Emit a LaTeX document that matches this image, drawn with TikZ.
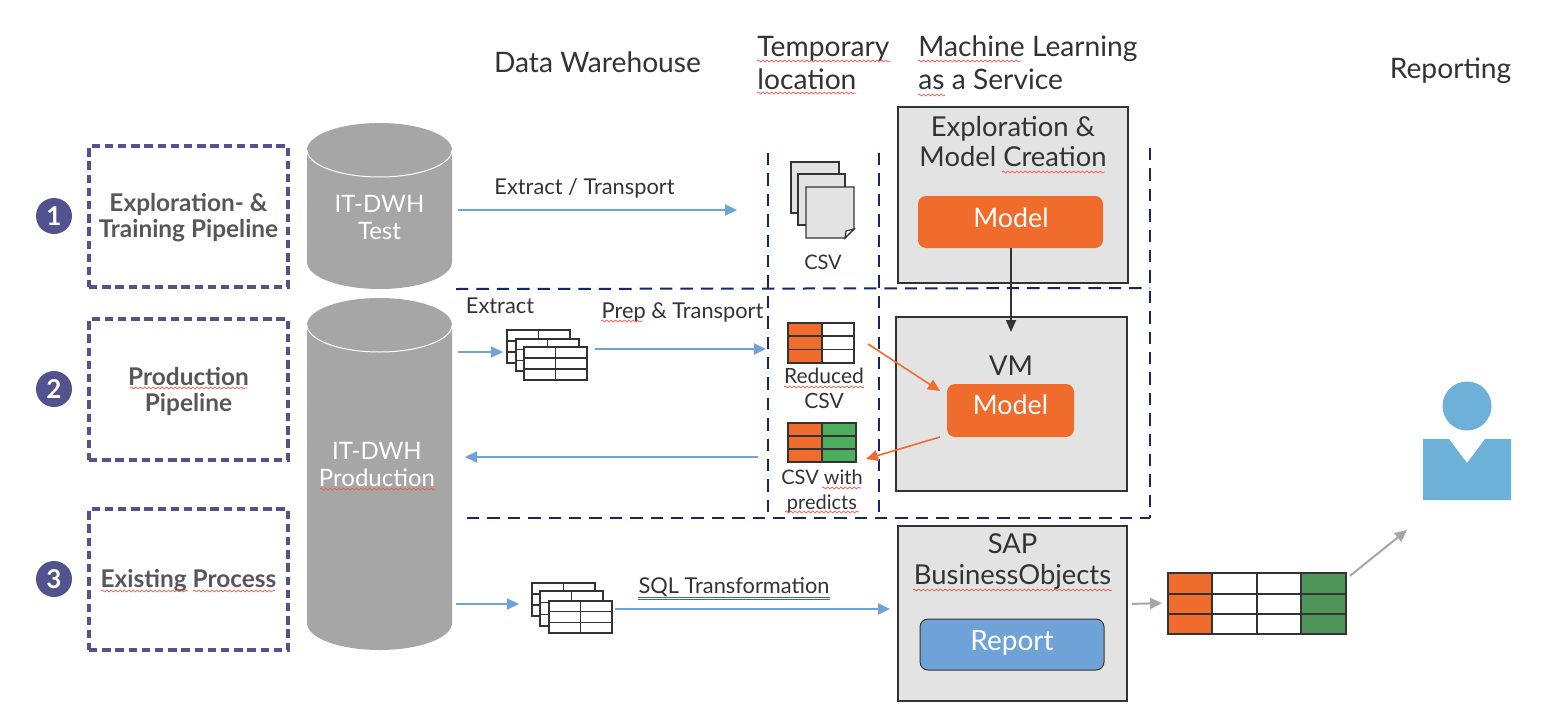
\documentclass[tikz,border=0pt]{standalone}
\usepackage{fontspec}
\setmainfont{Lato}
\usetikzlibrary{arrows.meta,decorations.pathmorphing,positioning}
\definecolor{navy}{HTML}{14276B}
\definecolor{purp}{HTML}{52528F}
\definecolor{cyl}{HTML}{A6A6A6}
\definecolor{flowc}{HTML}{6FA3D8}
\definecolor{orng}{HTML}{EF6C2D}
\definecolor{grn}{HTML}{4CAD5C}
\definecolor{grnd}{HTML}{4F9458}
\definecolor{panel}{HTML}{E3E3E3}
\definecolor{txt}{HTML}{333333}
\definecolor{txtb}{HTML}{575757}
\definecolor{psn}{HTML}{6EB1D8}
\definecolor{sq}{HTML}{EC5B4E}
\definecolor{repb}{HTML}{6FA3D8}
\definecolor{sqlb}{HTML}{3F62C8}
\tikzset{
  pipebox/.style={draw=purp,line width=1.7pt,dash pattern=on 4.2pt off 2.4pt,minimum width=99.5pt,minimum height=70.5pt,inner sep=0pt,outer sep=0pt},
  pipetxt/.style={inner sep=0pt,outer sep=0pt,align=center,text=txtb,font=\fontsize{12.2}{13}\selectfont\bfseries},
  numdot/.style={circle,fill=purp,text=white,minimum size=18pt,inner sep=0pt,font=\fontsize{13}{13}\selectfont\bfseries},
  ghost/.style={inner sep=0pt,outer sep=0pt},
  cyllabel/.style={text=white,align=center,font=\fontsize{12}{13.5}\selectfont},
  panelbox/.style={draw=txt,fill=panel,line width=.6pt,inner sep=0pt,outer sep=0pt},
  modelbox/.style={fill=orng,rounded corners=4pt,inner sep=0pt,outer sep=0pt},
  reportbox/.style={fill=repb,draw=txt,line width=.5pt,rounded corners=4pt,inner sep=0pt,outer sep=0pt},
  boxtxt/.style={inner sep=0pt,outer sep=0pt,text=white,font=\fontsize{13.4}{15}\selectfont},
  head/.style={text=txt,align=left,inner sep=0pt,font=\fontsize{14.1}{16}\selectfont},
  paneltxt/.style={text=txt,align=center,inner sep=0pt,font=\fontsize{13.7}{15}\selectfont},
  lab/.style={text=txt,inner sep=0pt,align=center,font=\fontsize{10.5}{12.5}\selectfont},
  edgelab/.style={text=txt,inner sep=0pt,align=center,font=\fontsize{10.9}{12.5}\selectfont},
  sepline/.style={draw=navy,line width=1pt,dash pattern=on 6.2pt off 4pt},
  flow/.style={draw=flowc,line width=1pt,-{Triangle[length=6pt,width=5.5pt]}},
  orngflow/.style={draw=orng,line width=.8pt,-{Triangle[length=6pt,width=5.5pt]}},
  grayflow/.style={draw=cyl,line width=1pt,-{Triangle[length=6pt,width=5.5pt]}},
  blackflow/.style={draw=txt,line width=.8pt,-{Triangle[length=6pt,width=5pt]}},
  squig/.style={draw=sq,line width=.35pt,decorate,decoration={snake,segment length=2.2pt,amplitude=.5pt}},
  gridl/.style={draw=txt,line width=.7pt},
  pagesheet/.style={draw=txt,fill=panel,line width=.6pt},
}
\newcommand{\gridtbl}[4]{% x1 y1 x2 y2
  \fill[white] (#1,#2) rectangle (#3,#4);
  \draw[gridl] (#1,#2) rectangle (#3,#4);
  \pgfmathsetmacro{\gm}{(#1+#3)/2}
  \pgfmathsetmacro{\gra}{#2+(#4-#2)/3}
  \pgfmathsetmacro{\grb}{#2+2*(#4-#2)/3}
  \draw[gridl] (\gm,#2) -- (\gm,#4) (#1,\gra) -- (#3,\gra) (#1,\grb) -- (#3,\grb);
}
\begin{document}
\begin{tikzpicture}[x=0.5pt,y=-0.5pt]
\useasboundingbox (0,0) rectangle (1558,728);
\fill[white] (0,0) rectangle (1558,728);

% headers
\node[head,anchor=center] (hdw) at (597.5,62) {Data Warehouse};
\node[head,anchor=west] (htmp) at (757,63) {Temporary\\[.6pt]location};
\node[head,anchor=west] (hml) at (918,63) {Machine Learning\\[.6pt]as a Service};
\node[head,anchor=center] (hrep) at (1450.5,71) {Reporting};

% pipeline boxes
\node[numdot] (n1) at (54,216) {1};
\node[numdot] (n2) at (54,389) {2};
\node[numdot] (n3) at (54,579) {3};
\node[pipebox] (p1) at (188.5,216.5) {};
\node[pipebox] (p2) at (188.5,389.5) {};
\node[pipebox] (p3) at (188.5,579.5) {};
\node[pipetxt] (p1t) at (188.5,218) {Exploration- \&\\Training Pipeline};
\node[pipetxt] (p2t) at (188.5,391) {Production\\Pipeline};
\node[pipetxt] (p3t) at (188.5,581) {Existing Process};

% cylinders
\node[ghost,minimum width=72.5pt,minimum height=83pt] (dwtest) at (379.5,206) {};
\node[ghost,minimum width=72.5pt,minimum height=176pt] (dwprod) at (379.5,474) {};
\fill[cyl] (307,150) arc[start angle=180,end angle=360,x radius=72.5,y radius=27] -- (452,262) arc[start angle=0,end angle=180,x radius=72.5,y radius=27] -- cycle;
\draw[white,line width=.5pt] (307,150) arc[start angle=180,end angle=0,x radius=72.5,y radius=27];
\fill[cyl] (307,325) arc[start angle=180,end angle=360,x radius=72.5,y radius=27] -- (452,623) arc[start angle=0,end angle=180,x radius=72.5,y radius=27] -- cycle;
\draw[white,line width=.5pt] (307,325) arc[start angle=180,end angle=0,x radius=72.5,y radius=27];
\node[cyllabel] (dwtestt) at (379.5,217.5) {IT-DWH\\Test};
\node[cyllabel] (dwprodt) at (377,464.5) {IT-DWH\\Production};

% panels
\node[panelbox,minimum width=115pt,minimum height=88pt] (expl) at (1013,195) {};
\node[panelbox,minimum width=115.5pt,minimum height=87pt] (vm) at (1011.5,404) {};
\node[panelbox,minimum width=114.5pt,minimum height=87.5pt] (sap) at (1012.5,613.5) {};
\node[paneltxt] (explt) at (1013,142) {Exploration \&\\Model Creation};
\node[paneltxt] (vmt) at (1011,366) {VM};
\node[paneltxt] (sapt) at (1012.5,562) {SAP\\[.5pt]BusinessObjects};
\node[modelbox,minimum width=92.5pt,minimum height=26pt] (model1) at (1010.5,222) {};
\node[boxtxt] (model1t) at (1011,218) {Model};
\node[modelbox,minimum width=63.5pt,minimum height=26.5pt] (model2) at (1010.5,410.5) {};
\node[boxtxt] (model2t) at (1010.5,405) {Model};
\node[reportbox,minimum width=92pt,minimum height=25.5pt] (report) at (1012,644.5) {};
\node[boxtxt,font=\fontsize{14}{15}\selectfont] (reportt) at (1012,642.5) {Report};

% CSV pages
\node[ghost,minimum width=31.5pt,minimum height=38pt] (csvs) at (822.5,200) {};
\draw[pagesheet] (791,162) rectangle (839,213);
\draw[pagesheet] (798,174) rectangle (845,225);
\draw[pagesheet] (806,187) -- (854,187) -- (854,229) -- (845,238) -- (806,238) -- cycle;
\draw[pagesheet,fill=white] (854,229) -- (846,231) -- (845,238) -- cycle;
\node[lab,font=\fontsize{10}{12}\selectfont] (csvl) at (823,262) {CSV};

% small tables
\node[ghost,minimum width=40pt,minimum height=25pt] (tblA) at (547,355) {};
\gridtbl{507}{330}{570}{363}
\gridtbl{516}{339}{579}{371}
\gridtbl{524}{347}{587}{380}
\node[ghost,minimum width=40pt,minimum height=25pt] (tblB) at (572,608) {};
\gridtbl{532}{583}{595}{616}
\gridtbl{540}{591}{603}{626}
\gridtbl{549}{601}{612}{633}

% reduced CSV
\node[ghost,minimum width=33pt,minimum height=20pt] (redcsv) at (821,343) {};
\fill[orng] (788,323) rectangle (822,363);
\draw[gridl] (788,323) rectangle (854,363);
\draw[gridl] (822,323) -- (822,363) (788,336) -- (854,336) (788,349.5) -- (854,349.5);
\node[lab] (redl) at (824,388.5) {Reduced\\CSV};
% predictions CSV
\node[ghost,minimum width=34pt,minimum height=19.5pt] (predcsv) at (822,442.5) {};
\fill[orng] (788,423) rectangle (822,462);
\fill[grn] (822,423) rectangle (856,462);
\draw[gridl,line width=.8pt] (788,423) rectangle (856,462);
\draw[gridl,line width=.8pt] (822,423) -- (822,462) (788,436) -- (856,436) (788,449) -- (856,449);
\node[lab,font=\fontsize{10}{12.5}\selectfont] (predl) at (822,491) {CSV with\\predicts};

% big table
\node[ghost,minimum width=89pt,minimum height=30.5pt] (bigt) at (1257,603.5) {};
\fill[orng] (1168,573) rectangle (1212,634);
\fill[grnd] (1301,573) rectangle (1346,634);
\draw[gridl] (1168,573) rectangle (1346,634);
\draw[gridl] (1212,573) -- (1212,634) (1257,573) -- (1257,634) (1301,573) -- (1301,634) (1168,594) -- (1346,594) (1168,614) -- (1346,614);

% person
\node[ghost,minimum width=44pt,minimum height=47.5pt] (person) at (1467,453) {};
\fill[psn] (1467,406) circle[radius=24.5];
\fill[psn] (1423,439) -- (1449,439) -- (1467,463) -- (1485,439) -- (1511,439) -- (1511,500) -- (1423,500) -- cycle;

% separators
\coordinate (sv1a) at (768,153); \coordinate (sv1b) at (768,518);
\coordinate (sv2a) at (879,153); \coordinate (sv2b) at (879,518);
\coordinate (sv3a) at (1150,148); \coordinate (sv3b) at (1150,518);
\coordinate (sh1a) at (456,289); \coordinate (sh1b) at (1150,288);
\coordinate (sh2a) at (467,518); \coordinate (sh2b) at (1150,518);
\draw[sepline] (sv1a) -- (sv1b);
\draw[sepline] (sv2a) -- (sv2b);
\draw[sepline] (sv3a) -- (sv3b);
\draw[sepline] (sh1a) -- (sh1b);
\draw[sepline] (sh2a) -- (sh2b);

% connectors
\draw[flow,shorten <=3pt,shorten >=27pt] ([yshift=-2pt]dwtest.east) -- ([yshift=-5pt]csvs.west);
\draw[flow,shorten <=3pt,shorten >=2pt] ([yshift=61pt]dwprod.east) -- ([yshift=1.5pt]tblA.west);
\draw[flow,shorten <=4pt,shorten >=11pt] ([yshift=3pt]tblA.east) -- ([yshift=-3pt]redcsv.west);
\draw[flow,shorten <=15pt,shorten >=6.5pt] ([yshift=-7.25pt]predcsv.west) -- ([yshift=8.5pt]dwprod.east);
\draw[flow,shorten <=2pt,shorten >=6.5pt] ([yshift=-65pt]dwprod.east) -- ([yshift=2pt]tblB.west);
\draw[flow,shorten <=1.5pt,shorten >=4pt] ([yshift=-.5pt]tblB.east) -- ([yshift=2.25pt]sap.west);
\draw[grayflow,shorten <=2.5pt,shorten >=3pt] ([yshift=4.75pt]sap.east) -- ([yshift=.25pt]bigt.west);
\coordinate (repend) at (1407,530);
\draw[grayflow,shorten <=2.5pt] ([yshift=12.25pt]bigt.east) -- (repend);
\draw[blackflow] ([xshift=.25pt]model1.south) -- ([xshift=-.25pt,yshift=-7.5pt]vm.north);
\draw[orngflow] ([xshift=7pt,yshift=-.5pt]redcsv.east) -- ([xshift=-3.5pt,yshift=9.75pt]model2.west);
\draw[orngflow] ([xshift=-3.5pt]model2.south west) -- ([xshift=5pt,yshift=-8.25pt]predcsv.east);

% connector labels
\node[edgelab] (lx1) at (584.5,188.5) {Extract / Transport};
\node[edgelab] (lx2) at (500,306) {Extract};
\node[edgelab] (lx3) at (682.5,312) {Prep \& Transport};
\node[edgelab] (lx4) at (734,587) {SQL Transformation};

% spell-check marks
\foreach \xa/\xb/\yy in {757/890/61,757/856/93,918/1021/61,918/945/95,1002/1105/172,601/643/321,784/864/387,822/861/488,785/859/512,913/1112/590,130/247/388,101/188/591,193/275/591,320/435/489}{
  \draw[squig] (\xa,\yy) -- (\xb,\yy);
}
\draw[draw=sqlb,line width=.5pt] (638,597) -- (830,597) (638,599.5) -- (830,599.5);
\end{tikzpicture}
\end{document}
